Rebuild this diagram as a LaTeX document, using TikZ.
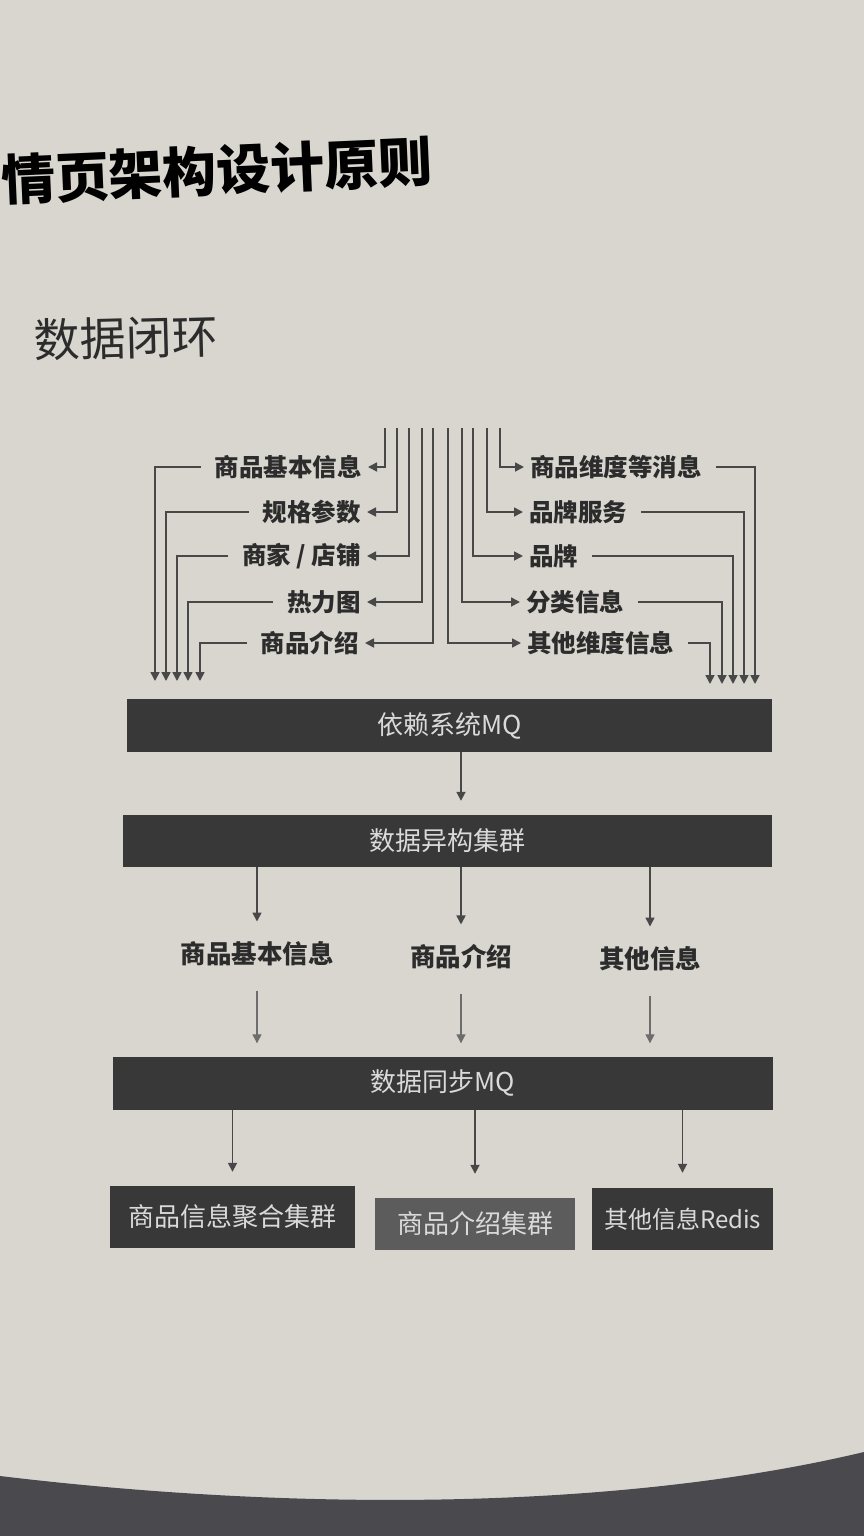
\documentclass[tikz,border=0pt]{standalone}
\usepackage{fontspec}
\newfontfamily\cjk{Noto Sans CJK SC}
\usetikzlibrary{arrows.meta,calc}
\definecolor{paper}{HTML}{D9D6D0}
\definecolor{tablec}{HTML}{4A494D}
\definecolor{ink}{HTML}{2C2C2C}
\definecolor{linec}{HTML}{484848}
\definecolor{barc}{HTML}{383838}
\definecolor{barlight}{HTML}{5C5C5C}
\definecolor{bartext}{HTML}{DADADA}
\tikzset{
  lbl/.style={font=\cjk\bfseries\fontsize{24.5}{27}\selectfont, text=ink, inner xsep=6pt, inner ysep=2pt},
  mlbl/.style={font=\cjk\bfseries\fontsize{25.5}{28}\selectfont, text=ink, inner sep=2pt},
  bar/.style={fill=barc, text=bartext, font=\cjk\fontsize{26}{30}\selectfont, inner sep=0pt},
  arr/.style={draw=linec, line width=1.7pt, -{Triangle[length=9pt,width=9pt]}},
  larr/.style={draw=linec!80, line width=1.3pt, -{Triangle[length=9pt,width=9pt]}}
}
\begin{document}
\begin{tikzpicture}[x=1pt,y=-1pt]
\useasboundingbox (0,0) rectangle (864,1536);
\fill[paper] (0,0) rectangle (864,1536);
\fill[tablec] (0,1476) .. controls (300,1512) and (620,1510) .. (864,1452) -- (864,1536) -- (0,1536) -- cycle;

% headings
\node[font=\cjk\bfseries\fontsize{54}{60}\selectfont, text=black, anchor=west, rotate=2.5, inner sep=0pt] (title) at (1,180) {情页架构设计原则};
\node[font=\cjk\fontsize{46}{50}\selectfont, text=ink, rotate=1.5, inner sep=0pt] (sub) at (126,338) {数据闭环};

% left labels
\node[lbl, anchor=east] (l1) at (368,467) {商品基本信息};
\node[lbl, anchor=east] (l2) at (367,512) {规格参数};
\node[lbl, anchor=east] (l3) at (367,556) {商家 / 店铺};
\node[lbl, anchor=east] (l4) at (367,602) {热力图};
\node[lbl, anchor=east] (l5) at (365,643) {商品介绍};

% right labels
\node[lbl, anchor=west] (r1) at (524,467) {商品维度等消息};
\node[lbl, anchor=west] (r2) at (523,512) {品牌服务};
\node[lbl, anchor=west] (r3) at (523,556) {品牌};
\node[lbl, anchor=west] (r4) at (520,602) {分类信息};
\node[lbl, anchor=west] (r5) at (521,643) {其他维度信息};

% top sources
\coordinate (t1) at (385,428);
\coordinate (t2) at (397,428);
\coordinate (t3) at (409,428);
\coordinate (t4) at (422,428);
\coordinate (t5) at (433,428);
\coordinate (s5) at (448,428);
\coordinate (s4) at (462,428);
\coordinate (s3) at (473,428);
\coordinate (s2) at (487,428);
\coordinate (s1) at (500,428);

% bottom ends above MQ bar
\coordinate (b1) at (155,681);
\coordinate (b2) at (166,681);
\coordinate (b3) at (177,681);
\coordinate (b4) at (188,681);
\coordinate (b5) at (200,681);
\coordinate (c5) at (710,684);
\coordinate (c4) at (722,684);
\coordinate (c3) at (733,684);
\coordinate (c2) at (744,684);
\coordinate (c1) at (755,684);

\foreach \i in {1,...,5}{
  \draw[arr] (t\i) |- (l\i.east);
  \draw[arr, shorten <=8pt] (l\i.west) -| (b\i);
  \draw[arr] (s\i) |- (r\i.west);
  \draw[arr, shorten <=8pt] (r\i.east) -| (c\i);
}

% bars
\node[bar, minimum width=645pt, minimum height=53pt] (mq1) at (449.5,725.5) {依赖系统MQ};
\node[bar, minimum width=649pt, minimum height=52pt] (het) at (447.5,841) {数据异构集群};
\node[mlbl] (m1) at (257,954) {商品基本信息};
\node[mlbl] (m2) at (461,957) {商品介绍};
\node[mlbl] (m3) at (650,959) {其他信息};
\node[bar, minimum width=660pt, minimum height=53pt] (mq2) at (443,1083) {数据同步MQ};
\node[bar, minimum width=245pt, minimum height=62pt] (o1) at (232.5,1217) {商品信息聚合集群};
\node[bar, fill=barlight, minimum width=200pt, minimum height=52pt] (o2) at (475,1224) {商品介绍集群};
\node[bar, font=\cjk\fontsize{24}{28}\selectfont, minimum width=181pt, minimum height=62pt] (o3) at (682.5,1219) {其他信息Redis};

% connectors
\draw[arr, shorten >=14pt] (mq1.south -| m2) -- (het.north -| m2);
\foreach \m in {m1,m2,m3}{
  \draw[arr, shorten >=18pt] (het.south -| \m) -- (\m.north);
  \draw[larr, shorten <=22pt, shorten >=13pt] (\m.south) -- (mq2.north -| \m);
}
\draw[arr, shorten >=14pt] (mq2.south -| o1) -- (o1.north);
\draw[arr, shorten >=24pt] (mq2.south -| o2) -- (o2.north);
\draw[arr, shorten >=15pt] (mq2.south -| o3) -- (o3.north);
\end{tikzpicture}
\end{document}
